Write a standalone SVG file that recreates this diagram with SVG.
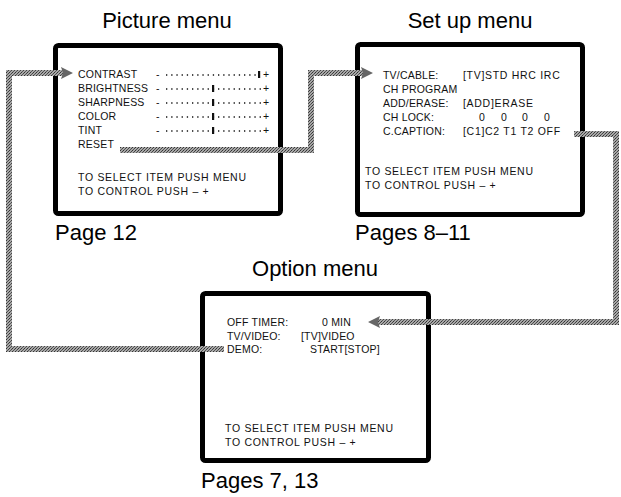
<svg xmlns="http://www.w3.org/2000/svg" width="621" height="497" viewBox="0 0 621 497">
<style>
.box{fill:#fff;stroke:#000;stroke-width:5;}
.t{font-family:"Liberation Sans",Arial,sans-serif;font-size:10.5px;letter-spacing:0.2px;fill:#111;}
.w{letter-spacing:0.7px;}
.h{font-family:"Liberation Sans",Arial,sans-serif;font-size:22px;fill:#000;}
.dots{stroke:#111;stroke-width:1.4;stroke-dasharray:1.3 3.9;}
.bar{fill:#111;}
.conn{fill:none;stroke:url(#stip);stroke-width:6;}
</style>
<defs>
<pattern id="stip" width="3" height="3" patternUnits="userSpaceOnUse">
<rect width="3" height="3" fill="#a8a8a8"/>
<rect width="1" height="1" fill="#333"/>
<rect x="2" y="1" width="1" height="1" fill="#444"/>
<rect x="1" y="2" width="1" height="1" fill="#555"/>
</pattern>
<marker id="arr" viewBox="0 0 12 12" refX="2" refY="6" markerWidth="12" markerHeight="12" markerUnits="userSpaceOnUse" orient="auto">
<path d="M0,0 L12,6 L0,12 L2,6 z" fill="#666"/>
</marker>
</defs>

<g id="picture-menu">
<text class="h" x="167" y="28" text-anchor="middle">Picture menu</text>
<rect class="box" x="55.5" y="45.5" width="225" height="168" rx="3"/>
<text class="t" x="78" y="78">CONTRAST</text>
<text class="t" x="78" y="92">BRIGHTNESS</text>
<text class="t" x="78" y="106">SHARPNESS</text>
<text class="t" x="78" y="120">COLOR</text>
<text class="t" x="78" y="134">TINT</text>
<text class="t" x="78" y="148">RESET</text>
<g id="sliders">
<text class="t" x="156" y="78">-</text><line class="dots" x1="166" y1="75" x2="256" y2="75"/><rect class="bar" x="258" y="71" width="2.2" height="7"/><text class="t" x="263" y="78">+</text>
<text class="t" x="156" y="92">-</text><line class="dots" x1="166" y1="89" x2="262" y2="89"/><rect class="bar" x="212" y="85" width="2.2" height="7"/><text class="t" x="263" y="92">+</text>
<text class="t" x="156" y="106">-</text><line class="dots" x1="166" y1="103" x2="262" y2="103"/><rect class="bar" x="212" y="99" width="2.2" height="7"/><text class="t" x="263" y="106">+</text>
<text class="t" x="156" y="120">-</text><line class="dots" x1="166" y1="117" x2="262" y2="117"/><rect class="bar" x="212" y="113" width="2.2" height="7"/><text class="t" x="263" y="120">+</text>
<text class="t" x="156" y="134">-</text><line class="dots" x1="166" y1="131" x2="262" y2="131"/><rect class="bar" x="212" y="127" width="2.2" height="7"/><text class="t" x="263" y="134">+</text>
</g>
<text class="t w" x="78" y="181">TO SELECT ITEM PUSH MENU</text>
<text class="t w" x="78" y="195">TO CONTROL PUSH – +</text>
<text class="h" x="55" y="240">Page 12</text>
</g>

<g id="setup-menu">
<text class="h" x="470" y="28" text-anchor="middle">Set up menu</text>
<rect class="box" x="357.5" y="44.5" width="225" height="170" rx="3"/>
<text class="t" x="383" y="79">TV/CABLE:</text><text class="t w" x="463" y="79">[TV]STD HRC IRC</text>
<text class="t" x="383" y="93">CH PROGRAM</text>
<text class="t" x="383" y="107">ADD/ERASE:</text><text class="t w" x="463" y="107">[ADD]ERASE</text>
<text class="t" x="383" y="121">CH LOCK:</text>
<text class="t" x="479" y="121">0</text><text class="t" x="501" y="121">0</text><text class="t" x="522" y="121">0</text><text class="t" x="544" y="121">0</text>
<text class="t" x="383" y="135">C.CAPTION:</text><text class="t w" x="463" y="135">[C1]C2 T1 T2 OFF</text>
<text class="t w" x="365" y="175">TO SELECT ITEM PUSH MENU</text>
<text class="t w" x="365" y="189">TO CONTROL PUSH – +</text>
<text class="h" x="355" y="240">Pages 8–11</text>
</g>

<g id="option-menu">
<text class="h" x="315" y="276" text-anchor="middle">Option menu</text>
<rect class="box" x="202.5" y="293.5" width="226" height="167" rx="3"/>
<text class="t" x="227" y="326">OFF TIMER:</text><text class="t" x="322" y="326">0 MIN</text>
<text class="t" x="227" y="340">TV/VIDEO:</text><text class="t" x="301" y="340">[TV]VIDEO</text>
<text class="t" x="227" y="353">DEMO:</text><text class="t" x="310" y="353">START[STOP]</text>
<text class="t w" x="225" y="432">TO SELECT ITEM PUSH MENU</text>
<text class="t w" x="225" y="446">TO CONTROL PUSH – +</text>
<text class="h" x="201" y="488">Pages 7, 13</text>
</g>

<g id="connectors">
<path class="conn" d="M120 150 H311 V73 H363" marker-end="url(#arr)"/>
<path class="conn" d="M574 134 H616 V322 H378" marker-end="url(#arr)"/>
<path class="conn" d="M224 349 H9 V73 H63" marker-end="url(#arr)"/>
</g>
</svg>
